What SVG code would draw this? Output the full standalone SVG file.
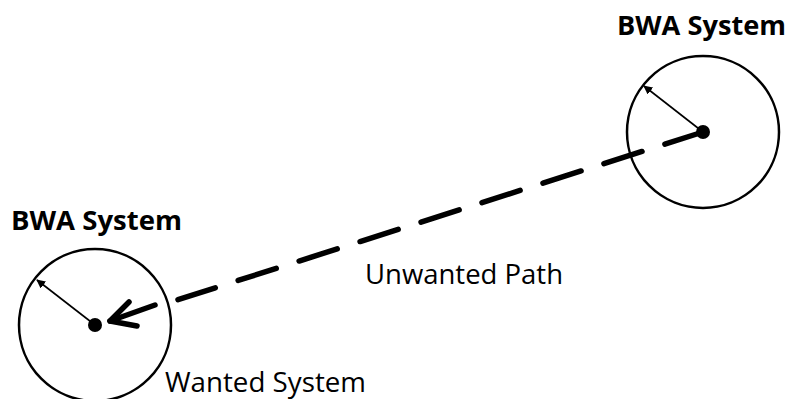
<svg xmlns="http://www.w3.org/2000/svg" width="788" height="399" viewBox="0 0 788 399">
<style>
.ring{fill:none;stroke:#000;stroke-width:2.5}
.dot{fill:#000}
.rad{stroke:#000;stroke-width:1.6;fill:none}
.path{stroke:#000;stroke-width:5.5;fill:none;stroke-linecap:round}
.lbl{font-family:"Open Sans","Liberation Sans",sans-serif;fill:#000}
.b{font-weight:bold;font-size:26px}
.n{font-size:27px}
</style>
<defs>
<marker id="ah" viewBox="0 0 10 10" refX="9" refY="5" markerWidth="9" markerHeight="9" orient="auto" markerUnits="userSpaceOnUse">
<path d="M0,0 L10,5 L0,10 z" fill="#000"/>
</marker>
</defs>
<g id="right-system">
<circle class="ring" cx="703" cy="132" r="76"/>
<circle class="dot" cx="703" cy="132" r="7"/>
<line class="rad" x1="703" y1="132" x2="644" y2="86" marker-end="url(#ah)"/>
<text class="lbl b" x="617" y="35" textLength="169" lengthAdjust="spacingAndGlyphs">BWA System</text>
</g>
<g id="left-system">
<circle class="ring" cx="95" cy="325" r="76"/>
<circle class="dot" cx="95" cy="325" r="7"/>
<line class="rad" x1="95" y1="325" x2="37" y2="280" marker-end="url(#ah)"/>
<text class="lbl b" x="11" y="230" textLength="171" lengthAdjust="spacingAndGlyphs">BWA System</text>
<text class="lbl n" x="165" y="392" textLength="201" lengthAdjust="spacingAndGlyphs">Wanted System</text>
</g>
<g id="connectors">
<line class="path" x1="703" y1="132" x2="178" y2="299.7" stroke-dasharray="40 24" stroke-linecap="butt"/>
<line class="path" x1="155" y1="305" x2="110" y2="321"/>
<polyline class="path" points="129,302 110,321 137,326" stroke-linejoin="round"/>
<text class="lbl n" x="365" y="284" textLength="198" lengthAdjust="spacingAndGlyphs">Unwanted Path</text>
</g>
</svg>
